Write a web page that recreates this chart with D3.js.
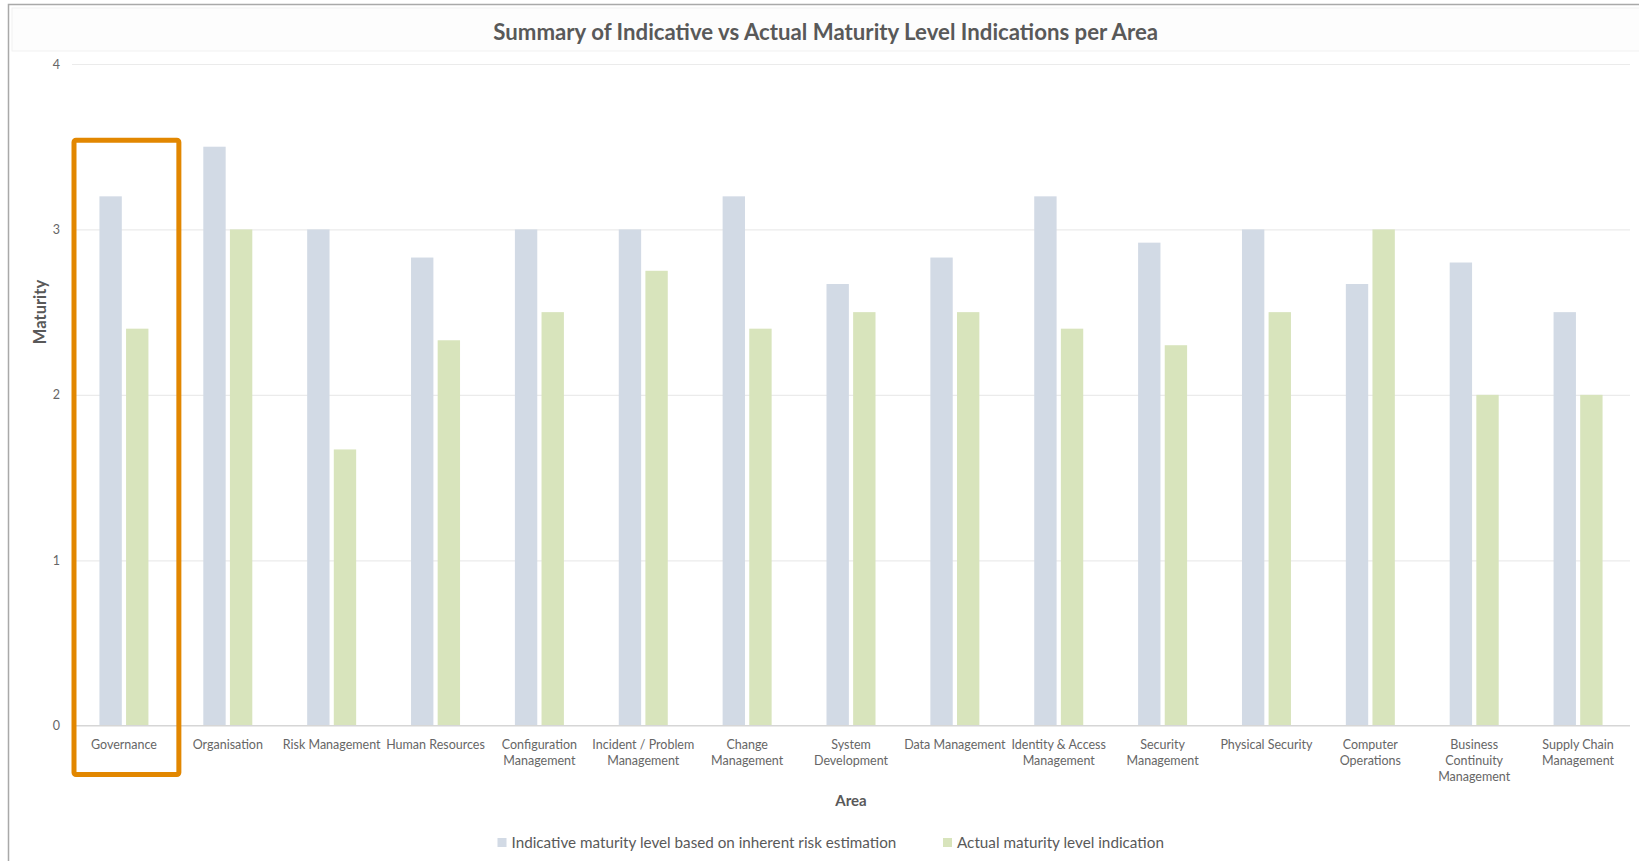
<!DOCTYPE html>
<html>
<head>
<meta charset="utf-8">
<script src="https://cdn.jsdelivr.net/npm/d3@7"></script>
<style>
  html, body { margin: 0; padding: 0; background: #ffffff; }
  svg { display: block; font-family: Lato, "Open Sans", "Noto Sans", sans-serif; }
</style>
</head>
<body>
<svg id="chart" width="1639" height="861"></svg>
<script>
// Areas (label lines as wrapped under the axis)
const categories = [
  "Governance", "Organisation", "Risk Management", "Human Resources",
  "Configuration Management", "Incident / Problem Management", "Change Management",
  "System Development", "Data Management", "Identity & Access Management",
  "Security Management", "Physical Security", "Computer Operations",
  "Business Continuity Management", "Supply Chain Management"
];
const categoryLines = [
  ["Governance"], ["Organisation"], ["Risk Management"], ["Human Resources"],
  ["Configuration", "Management"], ["Incident / Problem", "Management"], ["Change", "Management"],
  ["System", "Development"], ["Data Management"], ["Identity & Access", "Management"],
  ["Security", "Management"], ["Physical Security"], ["Computer", "Operations"],
  ["Business", "Continuity", "Management"], ["Supply Chain", "Management"]
];

const seriesNames = [
  "Indicative maturity level based on inherent risk estimation",
  "Actual maturity level indication"
];
const indicative = [3.2, 3.5, 3.0, 2.83, 3.0, 3.0, 3.2, 2.67, 2.83, 3.2, 2.92, 3.0, 2.67, 2.8, 2.5];
const actual     = [2.4, 3.0, 1.67, 2.33, 2.5, 2.75, 2.4, 2.5, 2.5, 2.4, 2.3, 2.5, 3.0, 2.0, 2.0];
const seriesColors = ["#D2DAE5", "#D8E4BC"];

const yTicks = [0, 1, 2, 3, 4];
const highlighted = "Governance";

const titleText = "Summary of Indicative vs Actual Maturity Level Indications per Area";
const xTitle = "Area";
const yTitle = "Maturity";

const svg = d3.select("#chart");
const textColor = "#595959";

// Plot geometry
const plot = { left: 72, right: 1630, top: 64, bottom: 725.7 };

const x = d3.scaleBand().domain(categories).range([plot.left, plot.right]).paddingInner(0).paddingOuter(0);
const groupWidth = 49;
const xInner = d3.scaleBand().domain(d3.range(seriesNames.length))
  .range([-groupWidth / 2, groupWidth / 2]).paddingInner(0.16).paddingOuter(0);
const y = d3.scaleLinear().domain([0, 4]).range([plot.bottom, plot.top]);

// Outer frame and title band
svg.append("rect").attr("x", 12).attr("y", 8).attr("width", 1640).attr("height", 43)
  .attr("fill", "#fdfdfd").attr("stroke", "#f1f1f1").attr("stroke-width", 1);
svg.append("path").attr("d", "M8.5,861 V4.5 H1639")
  .attr("fill", "none").attr("stroke", "#a9a9a9").attr("stroke-width", 1.5);

// Fit a text element's font size to a target width
function fitWidth(sel, target) {
  const node = sel.node();
  const fs = parseFloat(sel.attr("font-size"));
  const w = node.getComputedTextLength();
  if (w > 0) sel.attr("font-size", fs * target / w);
  return sel;
}

// Title
const title = svg.append("text")
  .attr("x", 825.7).attr("y", 39.5)
  .attr("text-anchor", "middle")
  .attr("font-size", 21).attr("font-weight", 700)
  .attr("fill", textColor)
  .text(titleText);
fitWidth(title, 665);

// Gridlines
svg.append("g").selectAll("line")
  .data(yTicks.filter(t => t > 0))
  .join("line")
  .attr("x1", plot.left).attr("x2", plot.right)
  .attr("y1", d => y(d) + 0.5).attr("y2", d => y(d) + 0.5)
  .attr("stroke", "#ebebeb").attr("stroke-width", 1.2);

// Y axis tick labels
const yAxis = d3.axisLeft(y).tickValues(yTicks).tickSize(0).tickPadding(0).tickFormat(d3.format("d"));
const yAxisG = svg.append("g").attr("transform", `translate(${60},0)`).call(yAxis);
yAxisG.select(".domain").remove();
yAxisG.selectAll("text")
  .attr("font-family", "Lato, 'Open Sans', sans-serif")
  .attr("font-size", 12.5).attr("fill", "#666666");

// Bars
const groups = svg.append("g").selectAll("g")
  .data(categories)
  .join("g")
  .attr("transform", d => `translate(${x(d) + x.bandwidth() / 2},0)`);

groups.selectAll("rect")
  .data((d, i) => [indicative[i], actual[i]].map((v, s) => ({ v, s })))
  .join("rect")
  .attr("x", d => xInner(d.s))
  .attr("width", xInner.bandwidth())
  .attr("y", d => y(d.v))
  .attr("height", d => y(0) - y(d.v))
  .attr("fill", d => seriesColors[d.s]);

// Baseline axis
svg.append("line")
  .attr("x1", plot.left).attr("x2", plot.right)
  .attr("y1", y(0)).attr("y2", y(0))
  .attr("stroke", "#d6d6d6").attr("stroke-width", 1.5);

// X axis category labels
const xLabels = svg.append("g").selectAll("text")
  .data(categories)
  .join("text")
  .attr("x", d => x(d) + x.bandwidth() / 2)
  .attr("y", 748.5)
  .attr("text-anchor", "middle")
  .attr("font-size", 12.5)
  .attr("fill", "#666666");
xLabels.each(function (d, i) {
  const t = d3.select(this);
  categoryLines[i].forEach((line, k) => {
    t.append("tspan")
      .attr("x", x(d) + x.bandwidth() / 2)
      .attr("dy", k === 0 ? 0 : 16)
      .text(line);
  });
});

// Axis titles
svg.append("text")
  .attr("x", (plot.left + plot.right) / 2).attr("y", 806)
  .attr("text-anchor", "middle")
  .attr("font-size", 15).attr("font-weight", 700)
  .attr("fill", textColor)
  .text(xTitle);

svg.append("text")
  .attr("transform", `translate(45.5,312) rotate(-90)`)
  .attr("text-anchor", "middle")
  .attr("font-size", 16.5).attr("font-weight", 700)
  .attr("fill", textColor)
  .text(yTitle);

// Legend
const legendX = [497.5, 943];
const legendTextW = [385, 207];
const legend = svg.append("g").selectAll("g")
  .data(seriesNames)
  .join("g")
  .attr("transform", (d, i) => `translate(${legendX[i]},${838})`);
legend.append("rect")
  .attr("width", 9).attr("height", 9)
  .attr("fill", (d, i) => seriesColors[i]);
legend.append("text")
  .attr("x", 14).attr("y", 9.5)
  .attr("font-size", 14.5)
  .attr("fill", textColor)
  .text(d => d)
  .each(function (d, i) { fitWidth(d3.select(this), legendTextW[i]); });

// Highlight frame around the first area
const hx = x(highlighted);
svg.append("rect")
  .attr("x", hx + 2).attr("y", y(3.5) - 6.5)
  .attr("width", x.bandwidth() + 1).attr("height", 774.5 - (y(3.5) - 6.5))
  .attr("rx", 2).attr("ry", 2)
  .attr("fill", "none")
  .attr("stroke", "#E28700").attr("stroke-width", 5);
</script>
</body>
</html>
